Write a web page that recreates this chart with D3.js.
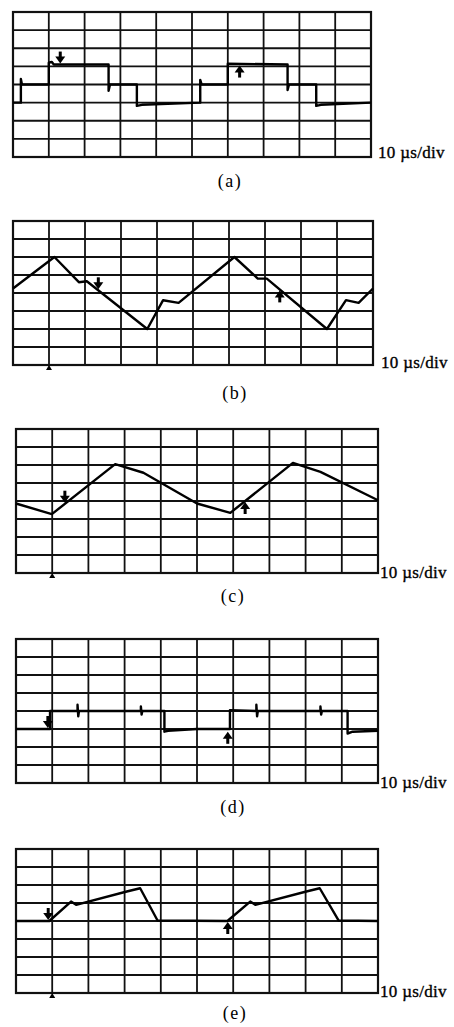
<!DOCTYPE html>
<html>
<head>
<meta charset="utf-8">
<script src="https://cdn.jsdelivr.net/npm/d3@7"></script>
<style>
  body { margin: 0; background: #fff; }
  svg { display: block; }
</style>
</head>
<body>
<div id="chart"></div>
<script>
// traces in divisions: x 0..10 (10 us/div), y 0..8 from bottom
var traceA = [[0,3],[0.22,3],[0.22,4.3],[0.25,4],[1.0,4],[1.0,5.2],[1.08,5.25],[1.14,5.1],[2.67,5.1],[2.67,3.65],[2.71,4],[3.46,4],[3.46,2.82],[3.6,2.88],[5.23,3.0],[5.23,4.25],[5.27,4],[6.0,4],[6.0,5.15],[7.67,5.1],[7.67,3.7],[7.71,4],[8.47,4],[8.47,2.82],[8.6,2.88],[10,3.0]];
var traceB = [[0,4.25],[1.15,6],[1.83,4.6],[2.05,4.65],[3.73,2],[4.17,3.6],[4.6,3.45],[6.15,6],[6.8,4.8],[7.05,4.8],[8.72,2],[9.25,3.6],[9.6,3.45],[10,4.25]];
var traceC = [[0,3.86],[0.99,3.27],[2.74,6.05],[3.52,5.57],[5.0,3.86],[5.92,3.34],[7.65,6.12],[8.41,5.62],[10,4.04]];
var traceD = [[0,3],[0.94,3],[0.94,4],[1.7,4],[1.7,4.35],[1.72,3.7],[1.74,4],[3.45,4],[3.45,4.25],[3.47,3.8],[3.49,4],[4.1,4],[4.1,2.85],[4.2,2.9],[5.0,3.0],[5.91,3.0],[5.91,4.05],[6.64,4],[6.64,4.35],[6.66,3.7],[6.68,4],[8.41,4],[8.41,4.25],[8.43,3.8],[8.45,4],[9.16,4],[9.16,2.75],[9.3,2.85],[10,2.9]];
var traceE = [[0,4],[0.92,4],[1.52,5.08],[1.66,4.9],[3.06,5.64],[3.43,5.82],[3.91,4.03],[5.84,4],[6.47,5.08],[6.61,4.9],[8.02,5.64],[8.39,5.82],[8.91,4.03],[10,4]];

// cursor arrows: [x, y, dir] dir 1 = points down onto trace, -1 = points up
var markersA = [[1.32,5.1,1],[6.33,5.1,-1]];
var markersB = [[2.37,4.15,1],[7.41,4.2,-1]];
var markersC = [[1.35,3.85,1],[6.33,4.0,-1]];
var markersD = [[0.88,3.0,1],[5.85,2.9,-1]];
var markersE = [[0.89,4.0,1],[5.85,4.0,-1]];

var panelNames = ["(a)", "(b)", "(c)", "(d)", "(e)"];
var scaleLabel = "10 \u00b5s/div";

var panels = [
    {trace: traceA, markers: markersA, box: [13, 12, 371, 157], name: [230, 187], lab: [378, 158], foot: []},
    {trace: traceB, markers: markersB, box: [13, 221, 373, 365], name: [235, 399], lab: [381, 368], foot: [1]},
    {trace: traceC, markers: markersC, box: [16, 429, 378, 573], name: [233, 602], lab: [380, 578], foot: [1]},
    {trace: traceD, markers: markersD, box: [16, 639, 378, 783], name: [233, 813], lab: [380, 788], foot: []},
    {trace: traceE, markers: markersE, box: [16, 849, 378, 993], name: [235, 1019], lab: [380, 997], foot: [1]}
];

var font = "'Liberation Serif', 'Times New Roman', serif";

var svg = d3.select("#chart").append("svg")
    .attr("width", 454)
    .attr("height", 1027);

panels.forEach(function (p, i) {

    var x = d3.scaleLinear().domain([0, 10]).range([p.box[0], p.box[2]]);
    var y = d3.scaleLinear().domain([0, 8]).range([p.box[3], p.box[1]]);

    var g = svg.append("g");

    // graticule
    g.selectAll(".vline")
        .data(d3.range(1, 10))
        .enter().append("line")
        .attr("x1", function (d) { return x(d); })
        .attr("x2", function (d) { return x(d); })
        .attr("y1", y(0))
        .attr("y2", y(8))
        .attr("stroke", "#111")
        .attr("stroke-width", 1.8);

    g.selectAll(".hline")
        .data(d3.range(1, 8))
        .enter().append("line")
        .attr("x1", x(0))
        .attr("x2", x(10))
        .attr("y1", function (d) { return y(d); })
        .attr("y2", function (d) { return y(d); })
        .attr("stroke", "#111")
        .attr("stroke-width", 1.8);

    g.append("rect")
        .attr("x", x(0))
        .attr("y", y(8))
        .attr("width", x(10) - x(0))
        .attr("height", y(0) - y(8))
        .attr("fill", "none")
        .attr("stroke", "#111")
        .attr("stroke-width", 2.2);

    // trace
    var line = d3.line()
        .x(function (d) { return x(d[0]); })
        .y(function (d) { return y(d[1]); });

    g.append("path")
        .datum(p.trace)
        .attr("d", line)
        .attr("fill", "none")
        .attr("stroke", "#000")
        .attr("stroke-width", 2.4)
        .attr("stroke-linejoin", "round");

    // cursor arrows
    p.markers.forEach(function (m) {
        var mx = x(m[0]), my = y(m[1]), s = m[2];
        g.append("line")
            .attr("x1", mx).attr("x2", mx)
            .attr("y1", my - s * 13).attr("y2", my - s * 5)
            .attr("stroke", "#000").attr("stroke-width", 3);
        g.append("path")
            .attr("d", "M" + (mx - 5) + "," + (my - s * 8) + "L" + (mx + 5) + "," + (my - s * 8) + "L" + mx + "," + (my - s * 1) + "Z")
            .attr("fill", "#000");
    });

    // little tick below the frame
    p.foot.forEach(function (f) {
        g.append("path")
            .attr("d", "M" + (x(f) - 3) + "," + (y(0) + 5) + "L" + (x(f) + 3) + "," + (y(0) + 5) + "L" + x(f) + "," + y(0) + "Z")
            .attr("fill", "#000");
    });

    g.append("text")
        .attr("x", p.lab[0])
        .attr("y", p.lab[1])
        .attr("font-family", font)
        .attr("font-size", 17)
        .attr("letter-spacing", 0.3)
        .attr("fill", "#000")
        .attr("stroke", "#000")
        .attr("stroke-width", 0.35)
        .text(scaleLabel);

    g.append("text")
        .attr("x", p.name[0])
        .attr("y", p.name[1])
        .attr("text-anchor", "middle")
        .attr("font-family", font)
        .attr("font-size", 18)
        .attr("letter-spacing", 1.5)
        .attr("fill", "#000")
        .text(panelNames[i]);
});
</script>
</body>
</html>
